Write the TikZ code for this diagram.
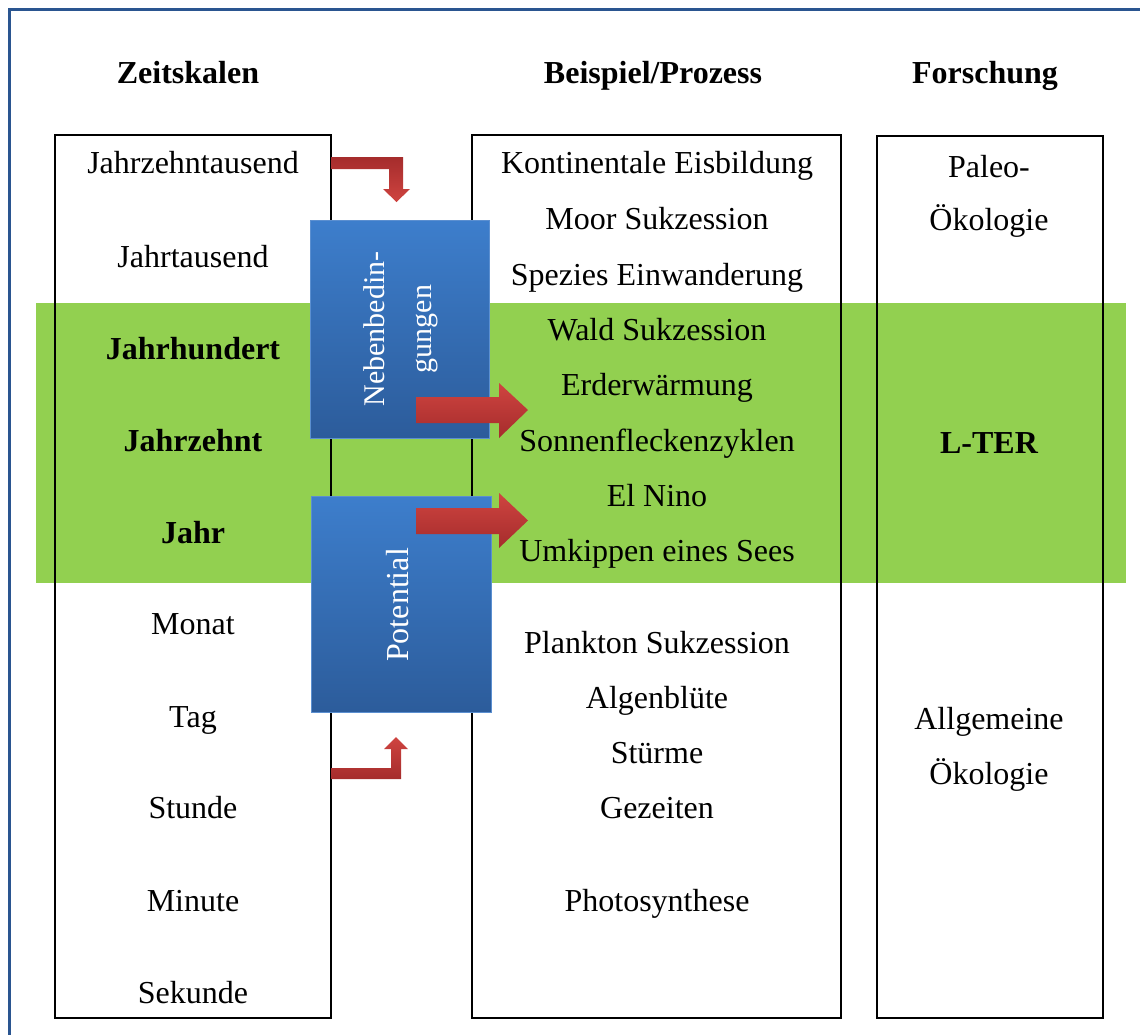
\documentclass[tikz,border=0pt]{standalone}
\usepackage{fontspec}
\setmainfont{Liberation Serif}
\definecolor{frameblue}{HTML}{2A5590}
\definecolor{bandgreen}{HTML}{92D050}
\definecolor{boxtop}{HTML}{3D7ECC}
\definecolor{boxbot}{HTML}{2C5C9B}
\definecolor{boxedge}{HTML}{5B8FD0}
\definecolor{redlight}{HTML}{CF4440}
\definecolor{reddark}{HTML}{A52C2C}
\begin{document}
\begin{tikzpicture}[x=1pt,y=-1pt,
  txt/.style={font=\fontsize{32}{38}\selectfont, anchor=base, inner sep=0pt},
  bld/.style={txt, font=\fontsize{32}{38}\selectfont\bfseries},
  colbox/.style={draw=black, line width=2pt},
  bluebox/.style={draw=boxedge, line width=1pt, top color=boxtop, bottom color=boxbot},
  vtext/.style={text=white, rotate=90, align=center, inner sep=0pt},
  redarrow/.style={draw=none, top color=redlight, bottom color=reddark},
  redarrowrev/.style={draw=none, top color=reddark, bottom color=redlight}]
\useasboundingbox (0,0) rectangle (1140,1034);
\clip (0,0) rectangle (1140,1034);
% outer frame
\draw[frameblue, line width=3pt] (9,1060) -- (9,9) -- (1160,9);
% green band
\fill[bandgreen] (36,303) rectangle (1126,583);
% column boxes
\draw[colbox] (55,135) rectangle (331,1018);
\draw[colbox] (472,135) rectangle (841,1018);
\draw[colbox] (877,136) rectangle (1103,1018);
% headers
\node[bld] (h1) at (188,83) {Zeitskalen};
\node[bld] (h2) at (653,83) {Beispiel/Prozess};
\node[bld] (h3) at (985,83) {Forschung};
% left column
\node[txt] (l1) at (193,173) {Jahrzehntausend};
\node[txt] (l2) at (193,267) {Jahrtausend};
\node[bld] (l3) at (193,359) {Jahrhundert};
\node[bld] (l4) at (193,451) {Jahrzehnt};
\node[bld] (l5) at (193,543) {Jahr};
\node[txt] (l6) at (193,634) {Monat};
\node[txt] (l7) at (193,727) {Tag};
\node[txt] (l8) at (193,818) {Stunde};
\node[txt] (l9) at (193,911) {Minute};
\node[txt] (l10) at (193,1003) {Sekunde};
% middle column
\node[txt] (m1) at (657,173) {Kontinentale Eisbildung};
\node[txt] (m2) at (657,229) {Moor Sukzession};
\node[txt] (m3) at (657,285) {Spezies Einwanderung};
\node[txt] (m4) at (657,340) {Wald Sukzession};
\node[txt] (m5) at (657,395) {Erderwärmung};
\node[txt] (m6) at (657,451) {Sonnenfleckenzyklen};
\node[txt] (m7) at (657,506) {El Nino};
\node[txt] (m8) at (657,561) {Umkippen eines Sees};
\node[txt] (m9) at (657,653) {Plankton Sukzession};
\node[txt] (m10) at (657,708) {Algenblüte};
\node[txt] (m11) at (657,763) {Stürme};
\node[txt] (m12) at (657,818) {Gezeiten};
\node[txt] (m13) at (657,911) {Photosynthese};
% right column
\node[txt] (r1) at (989,177) {Paleo-};
\node[txt] (r2) at (989,230) {Ökologie};
\node[bld] (r3) at (989,453) {L-TER};
\node[txt] (r4) at (989,729) {Allgemeine};
\node[txt] (r5) at (989,784) {Ökologie};
% blue boxes
\path[bluebox] (310,220) rectangle (489,438);
\node[vtext, font=\fontsize{30}{47}\selectfont] (nb) at (401,329) {Nebenbedin-\\gungen};
\path[bluebox] (311,496) rectangle (491,712);
\node[vtext, font=\fontsize{32}{38}\selectfont] (pot) at (398,605) {Potential};
% bent arrows
\path[redarrowrev] (331,157) -- (403,157) -- (403,189) -- (410,189) -- (396.5,202) -- (383,189) -- (389,189) -- (389,169) -- (331,169) -- cycle;
\path[redarrow] (331,779) -- (401,779) -- (401,749) -- (408,749) -- (396,737) -- (384,749) -- (391,749) -- (391,768) -- (331,768) -- cycle;
% straight arrows
\path[redarrow] (416,397) -- (499,397) -- (499,383) -- (528,410) -- (499,438) -- (499,423) -- (416,423) -- cycle;
\path[redarrow] (416,508) -- (499,508) -- (499,493) -- (528,520.5) -- (499,548) -- (499,534) -- (416,534) -- cycle;
\end{tikzpicture}
\end{document}
